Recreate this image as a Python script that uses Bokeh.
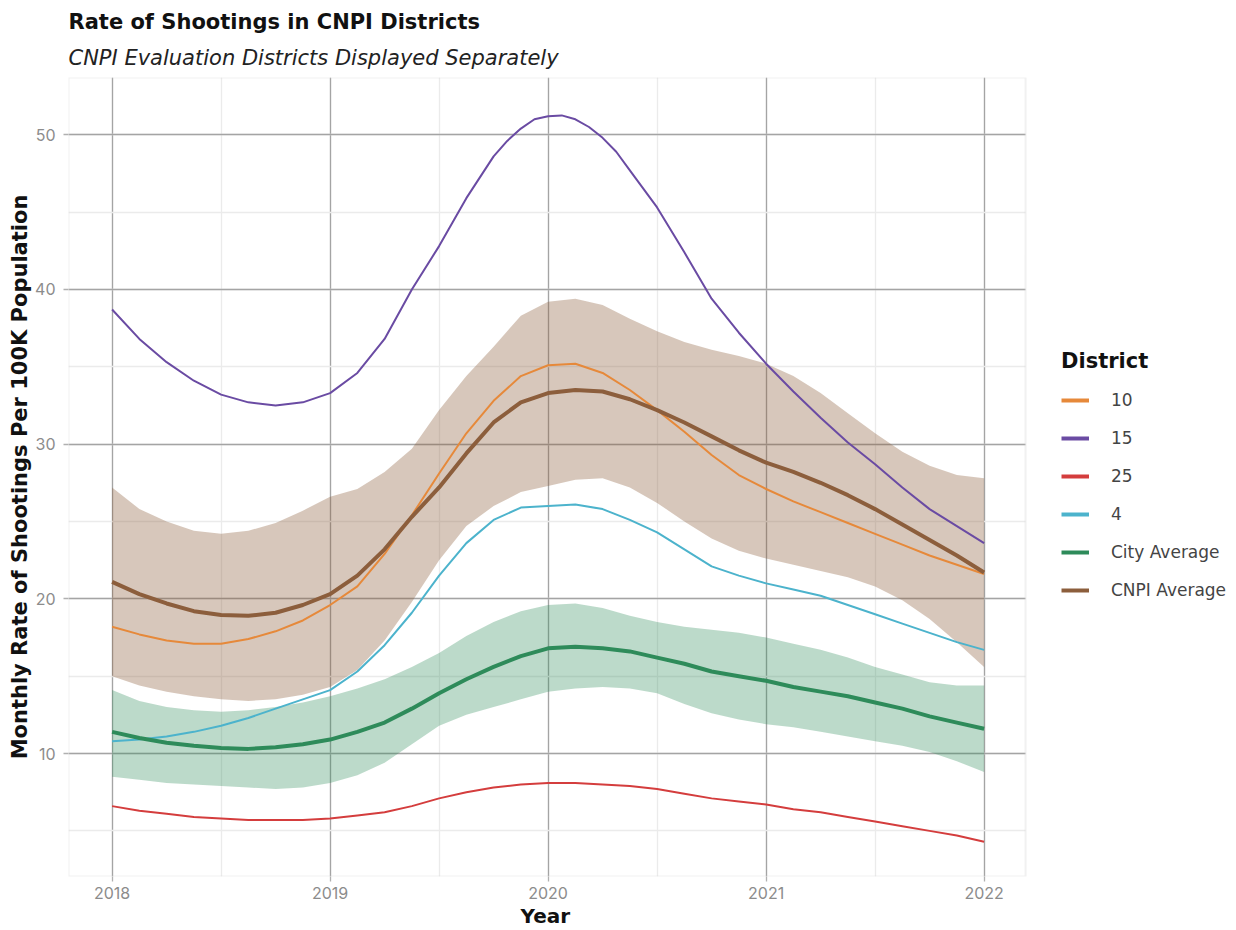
from bokeh.plotting import figure
from bokeh.models import Range1d, Legend, LegendItem, Title, SingleIntervalTicker, BoxAnnotation
from bokeh.embed import file_html
from bokeh.resources import INLINE

# x positions: every eighth of a year, 2018 .. 2022
years = [2018 + i / 8 for i in range(33)]

d10 = [18.2, 17.7, 17.3, 17.1, 17.1, 17.4, 17.9, 18.6, 19.6, 20.8, 22.9, 25.4, 28.1, 30.7, 32.8, 34.4, 35.1,
       35.2, 34.6, 33.5, 32.2, 30.8, 29.3, 28.0, 27.1, 26.3, 25.6, 24.9, 24.2, 23.5, 22.8, 22.2, 21.6]
# district 15 is read a little finer around its peak
years15 = [2018.0, 2018.125, 2018.25, 2018.375, 2018.5, 2018.625, 2018.75, 2018.875, 2019.0, 2019.125,
           2019.25, 2019.375, 2019.5, 2019.625, 2019.75, 2019.8125, 2019.875, 2019.9375, 2020.0, 2020.0625,
           2020.125, 2020.1875, 2020.25, 2020.3125, 2020.375, 2020.5, 2020.625, 2020.75, 2020.875, 2021.0,
           2021.125, 2021.25, 2021.375, 2021.5, 2021.625, 2021.75, 2021.875, 2022.0]
d15 = [38.7, 36.8, 35.3, 34.1, 33.2, 32.7, 32.5, 32.7, 33.3, 34.6,
       36.8, 40.0, 42.8, 45.9, 48.6, 49.6, 50.4, 51.0, 51.2, 51.25,
       51.0, 50.5, 49.8, 48.9, 47.7, 45.3, 42.4, 39.4, 37.2, 35.2,
       33.4, 31.7, 30.1, 28.7, 27.2, 25.8, 24.7, 23.6]
d25 = [6.6, 6.3, 6.1, 5.9, 5.8, 5.7, 5.7, 5.7, 5.8, 6.0, 6.2, 6.6, 7.1, 7.5, 7.8, 8.0, 8.1,
       8.1, 8.0, 7.9, 7.7, 7.4, 7.1, 6.9, 6.7, 6.4, 6.2, 5.9, 5.6, 5.3, 5.0, 4.7, 4.3]
d4 = [10.8, 10.9, 11.1, 11.4, 11.8, 12.3, 12.9, 13.5, 14.1, 15.3, 17.0, 19.1, 21.5, 23.6, 25.1, 25.9, 26.0,
      26.1, 25.8, 25.1, 24.3, 23.2, 22.1, 21.5, 21.0, 20.6, 20.2, 19.6, 19.0, 18.4, 17.8, 17.2, 16.7]
city = [11.4, 11.0, 10.7, 10.5, 10.35, 10.3, 10.4, 10.6, 10.9, 11.4, 12.0, 12.9, 13.9, 14.8, 15.6, 16.3, 16.8,
        16.9, 16.8, 16.6, 16.2, 15.8, 15.3, 15.0, 14.7, 14.3, 14.0, 13.7, 13.3, 12.9, 12.4, 12.0, 11.6]
city_hi = [14.1, 13.4, 13.0, 12.8, 12.7, 12.8, 13.0, 13.3, 13.7, 14.2, 14.8, 15.6, 16.5, 17.6, 18.5, 19.2, 19.6,
           19.7, 19.4, 18.9, 18.5, 18.2, 18.0, 17.8, 17.5, 17.1, 16.7, 16.2, 15.6, 15.1, 14.6, 14.4, 14.4]
city_lo = [8.5, 8.3, 8.1, 8.0, 7.9, 7.8, 7.7, 7.8, 8.1, 8.6, 9.4, 10.6, 11.8, 12.5, 13.0, 13.5, 14.0,
           14.2, 14.3, 14.2, 13.9, 13.2, 12.6, 12.2, 11.9, 11.7, 11.4, 11.1, 10.8, 10.5, 10.1, 9.5, 8.8]
cnpi = [21.1, 20.3, 19.7, 19.2, 18.95, 18.9, 19.1, 19.6, 20.3, 21.5, 23.2, 25.3, 27.2, 29.4, 31.4, 32.7, 33.3,
        33.5, 33.4, 32.9, 32.2, 31.4, 30.5, 29.6, 28.8, 28.2, 27.5, 26.7, 25.8, 24.8, 23.8, 22.8, 21.7]
cnpi_hi = [27.2, 25.8, 25.0, 24.4, 24.2, 24.4, 24.9, 25.7, 26.6, 27.1, 28.2, 29.7, 32.2, 34.4, 36.3, 38.3, 39.2,
           39.4, 39.0, 38.1, 37.3, 36.6, 36.1, 35.7, 35.2, 34.4, 33.3, 32.0, 30.7, 29.5, 28.6, 28.0, 27.8]
cnpi_lo = [15.0, 14.4, 14.0, 13.7, 13.5, 13.4, 13.5, 13.8, 14.3, 15.4, 17.3, 19.8, 22.5, 24.7, 26.0, 26.9, 27.3,
           27.7, 27.8, 27.2, 26.2, 25.0, 23.9, 23.1, 22.6, 22.2, 21.8, 21.4, 20.8, 19.9, 18.7, 17.2, 15.6]

legend_labels = ["10", "15", "25", "4", "City Average", "CNPI Average"]
colors = ["#E6893A", "#6A4BA3", "#D43D3D", "#4CB3CC", "#2E8B5A", "#8C5E3C"]

BOLD = "DejaVu Sans"
TICKF = "Inter"

# panel (data area) limits
X0, X1 = 2017.80, 2022.19
Y0, Y1 = 2.05, 53.7
PX_PER_YEAR = 218.0
FW, FH = 1166, 799          # frame also hosts the legend at its right
XEND = X0 + FW / PX_PER_YEAR

p = figure(frame_width=FW, frame_height=FH,
           x_range=Range1d(X0, XEND), y_range=Range1d(Y0, Y1),
           output_backend="svg", toolbar_location=None,
           min_border_left=68, min_border_right=0, min_border_top=77, min_border_bottom=0)
# a range far away from the visible one: legend-only copies of the series live there
p.extra_y_ranges = {"legend_only": Range1d(1000, 1001)}

# titles
p.add_layout(Title(text="CNPI Evaluation Districts Displayed Separately", text_font=BOLD,
                   text_font_style="italic", text_font_size="21px", text_color="#222222",
                   align="left", standoff=15), "above")
p.add_layout(Title(text="Rate of Shootings in CNPI Districts", text_font=BOLD,
                   text_font_style="bold", text_font_size="21px", text_color="#111111",
                   align="left", standoff=5), "above")

# axes / grid
xt = SingleIntervalTicker(interval=1, num_minor_ticks=2)
yt = SingleIntervalTicker(interval=10, num_minor_ticks=2)
p.xaxis.ticker = xt
p.yaxis.ticker = yt
p.xgrid.ticker = xt
p.ygrid.ticker = yt
p.xaxis.bounds = (X0, X1)
p.xgrid.bounds = (X0, X1)
for g in (p.xgrid, p.ygrid):
    g.grid_line_color = "#A4A4A4"
    g.grid_line_width = 1.3
    g.minor_grid_line_color = "#EBEBEB"
    g.minor_grid_line_width = 1.3

for ax in (p.xaxis, p.yaxis):
    ax.axis_line_color = None
    ax.major_tick_line_color = "#B0B0B0"
    ax.major_tick_line_width = 1.3
    ax.major_tick_out = 5
    ax.major_tick_in = 0
    ax.minor_tick_line_color = None
    ax.major_label_text_font = TICKF
    ax.major_label_text_font_size = "16px"
    ax.major_label_text_color = "#8C8C8C"
    ax.axis_label_text_font = BOLD
    ax.axis_label_text_font_style = "bold"
    ax.axis_label_text_color = "#111111"
p.yaxis.axis_label = "Monthly Rate of Shootings Per 100K Population"
p.yaxis.axis_label_text_font_size = "21px"
p.xaxis.major_label_standoff = 5
p.yaxis.major_label_standoff = 8
p.yaxis.axis_label_standoff = 0
p.outline_line_color = None
p.background_fill_color = "white"
p.border_fill_color = "white"

# x-axis title, centred under the data panel (not under the legend)
p.add_layout(Title(text="Year", text_font=BOLD, text_font_style="bold", text_font_size="20px",
                   text_color="#111111", align="left", offset=452, standoff=0), "below")

# blank out the legend area (right of the panel) and draw the panel border
p.add_layout(BoxAnnotation(left=X1, fill_color="white", fill_alpha=1.0, line_color=None, level="underlay"))
p.add_layout(BoxAnnotation(left=X0, right=X1, bottom=Y0, top=Y1, fill_alpha=0,
                           line_color="#CFCFCF", line_width=2, level="underlay"))

# confidence bands
p.varea(x=years, y1=cnpi_lo, y2=cnpi_hi, fill_color=colors[5], fill_alpha=0.35)
p.varea(x=years, y1=city_lo, y2=city_hi, fill_color=colors[4], fill_alpha=0.32)

# district lines (thin)
p.line(years, d10, line_color=colors[0], line_width=2, line_join="round")
p.line(years15, d15, line_color=colors[1], line_width=2, line_join="round")
p.line(years, d25, line_color=colors[2], line_width=2, line_join="round")
p.line(years, d4, line_color=colors[3], line_width=2, line_join="round")
# average lines (thick)
p.line(years, city, line_color=colors[4], line_width=4, line_join="round")
p.line(years, cnpi, line_color=colors[5], line_width=4, line_join="round")

# legend keys: same series, equal key width, drawn on the off-screen range
series = [(years, d10), (years15, d15), (years, d25), (years, d4), (years, city), (years, cnpi)]
items = []
for lab, c, (xs, ys) in zip(legend_labels, colors, series):
    r = p.line(xs, ys, line_color=c, line_width=4, y_range_name="legend_only")
    items.append(LegendItem(label=lab, renderers=[r]))

# location = bottom-left corner of the legend, in px from the frame's bottom-left
legend = Legend(items=items, title="District", location=(993, 275))
legend.title_text_font = BOLD
legend.title_text_font_style = "bold"
legend.title_text_font_size = "21px"
legend.title_text_color = "#111111"
legend.title_standoff = 16
legend.label_text_font = BOLD
legend.label_text_font_size = "17px"
legend.label_text_color = "#444444"
legend.glyph_width = 28
legend.glyph_height = 22
legend.label_height = 22
legend.spacing = 16
legend.label_standoff = 22
legend.border_line_color = None
legend.background_fill_alpha = 0
legend.margin = 0
legend.padding = 0
p.add_layout(legend, "center")

open("out.html", "w").write(file_html(p, INLINE))
